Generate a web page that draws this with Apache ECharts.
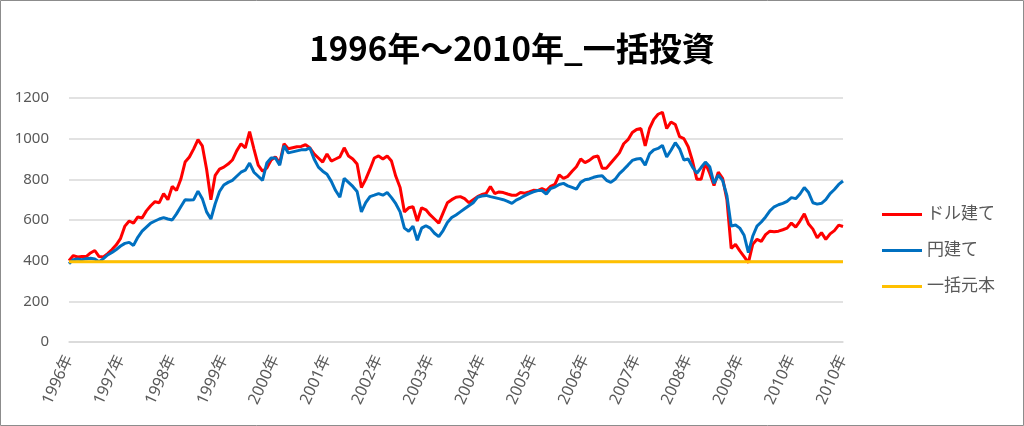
<!DOCTYPE html>
<html>
<head>
<meta charset="utf-8">
<script src="https://cdn.jsdelivr.net/npm/echarts@6/dist/echarts.min.js"></script>
<style>
html,body{margin:0;padding:0;background:#fff;}
#chart{width:1024px;height:426px;}
</style>
</head>
<body>
<div id="chart"></div>
<script>
// ---- data (monthly readings, Jan 1996 .. Dec 2010, plus final point) ----
const startYear = 1996;
const endYear = 2010;
const finalCategory = '2010/12末';

const xTickLabels = ['1996年','1997年','1998年','1999年','2000年','2001年','2002年','2003年',
  '2004年','2005年','2006年','2007年','2008年','2009年','2010年','2010年'];

const yTicks = [0, 200, 400, 600, 800, 1000, 1200];

const seriesNames = ['ドル建て', '円建て', '一括元本'];

// ドル建て
const usdValues = [
  400,425,418,420,420,438,450,420,418,435,455,478,
  510,570,595,585,615,610,645,670,690,685,730,700,
  765,745,800,885,910,950,995,965,850,700,820,850,
  860,875,895,940,975,955,1035,950,870,840,855,895,
  910,880,975,950,955,960,962,970,955,925,905,885,
  925,890,900,910,955,915,900,875,760,800,850,905,
  915,900,915,890,815,760,640,660,665,595,660,650,
  625,605,585,635,685,700,712,715,705,685,700,715,
  725,730,765,730,738,735,728,722,722,735,732,738,
  746,745,755,745,765,775,822,805,815,840,862,900,
  882,893,910,915,855,855,880,905,930,975,995,1030,
  1045,1050,965,1050,1095,1120,1130,1050,1082,1070,1010,1000,
  960,890,800,800,880,830,770,835,805,700,460,480,
  448,420,390,480,505,495,528,545,542,545,552,560,
  585,565,595,630,580,555,512,538,505,532,548,575,
  568
];

// 円建て
const jpyValues = [
  385,405,408,405,410,412,408,395,410,428,440,455,
  472,485,490,475,515,545,565,585,595,605,612,605,
  600,630,665,700,698,700,742,705,640,605,680,740,
  772,785,795,815,835,845,880,835,815,795,880,905,
  905,870,965,930,935,940,945,945,955,900,860,840,
  825,790,745,712,805,785,765,740,640,685,715,722,
  730,722,735,710,680,640,560,545,570,500,560,572,
  560,535,518,548,588,612,625,640,655,670,685,712,
  718,721,715,710,705,700,692,682,698,708,720,730,
  738,745,745,728,755,762,775,780,768,760,752,785,
  798,802,810,815,818,795,785,800,828,848,870,893,
  900,902,870,925,945,952,967,910,943,980,950,895,
  900,860,830,858,885,862,780,820,795,720,570,575,
  560,525,440,520,570,590,615,645,665,675,682,692,
  710,705,728,760,735,685,678,682,700,730,750,775,
  792
];

// 一括元本 (constant principal)
const principalValue = 395;

// ---- build categories ----
const categories = [];
for (let y = startYear; y <= endYear; y++) {
  for (let m = 1; m <= 12; m++) categories.push(y + '/' + (m < 10 ? '0' + m : m));
}
categories.push(finalCategory);

const principalData = [
  [categories[0], principalValue],
  [categories[categories.length - 1], principalValue]
];

const FONT = "'Noto Sans', 'Noto Sans CJK JP', sans-serif";
const chart = echarts.init(document.getElementById('chart'), null, {renderer: 'canvas'});
chart.setOption({
  animation: false,
  backgroundColor: '#ffffff',
  title: {
    text: '1996年～2010年_一括投資',
    left: 'center',
    top: 27,
    textStyle: {
      fontFamily: "'Noto Sans CJK JP', sans-serif",
      fontWeight: 'bold',
      fontSize: 33,
      color: '#000000'
    }
  },
  graphic: [{
    type: 'rect',
    shape: {x: 0.5, y: 0.5, width: 1023, height: 425},
    style: {fill: null, stroke: '#8c8c8c', lineWidth: 1},
    silent: true
  }],
  legend: {
    orient: 'vertical',
    left: 882,
    top: 206,
    padding: 0,
    itemWidth: 40,
    itemHeight: 3,
    itemGap: 19,
    icon: 'rect',
    data: seriesNames,
    textStyle: {fontFamily: FONT, fontSize: 17, color: '#595959'}
  },
  grid: {left: 69, right: 181, top: 98, bottom: 84, containLabel: false},
  xAxis: {
    type: 'category',
    boundaryGap: false,
    data: categories,
    axisLine: {show: true, lineStyle: {color: '#d9d9d9', width: 1.5}},
    axisTick: {show: false},
    splitLine: {show: false},
    axisLabel: {
      interval: function (idx) { return idx % 12 === 0; },
      formatter: function (val, idx) { return xTickLabels[Math.round(idx / 12)]; },
      rotate: 65,
      margin: 14,
      fontFamily: FONT,
      fontSize: 16,
      color: '#595959'
    }
  },
  yAxis: {
    type: 'value',
    min: yTicks[0],
    max: yTicks[yTicks.length - 1],
    interval: yTicks[1] - yTicks[0],
    axisLine: {show: false},
    axisTick: {show: false},
    splitLine: {show: true, lineStyle: {color: '#d9d9d9', width: 1.5}},
    axisLabel: {
      margin: 20, fontFamily: FONT, fontSize: 15, color: '#595959',
      formatter: function (v) { return String(v); }
    }
  },
  series: [
    {
      name: seriesNames[0], type: 'line', data: usdValues, symbol: 'none',
      lineStyle: {color: '#ff0000', width: 3}, itemStyle: {color: '#ff0000'}, z: 2
    },
    {
      name: seriesNames[1], type: 'line', data: jpyValues, symbol: 'none',
      lineStyle: {color: '#0070c0', width: 3}, itemStyle: {color: '#0070c0'}, z: 3
    },
    {
      name: seriesNames[2], type: 'line', data: principalData, symbol: 'none',
      lineStyle: {color: '#ffc000', width: 3}, itemStyle: {color: '#ffc000'}, z: 4
    }
  ]
});
</script>
</body>
</html>
